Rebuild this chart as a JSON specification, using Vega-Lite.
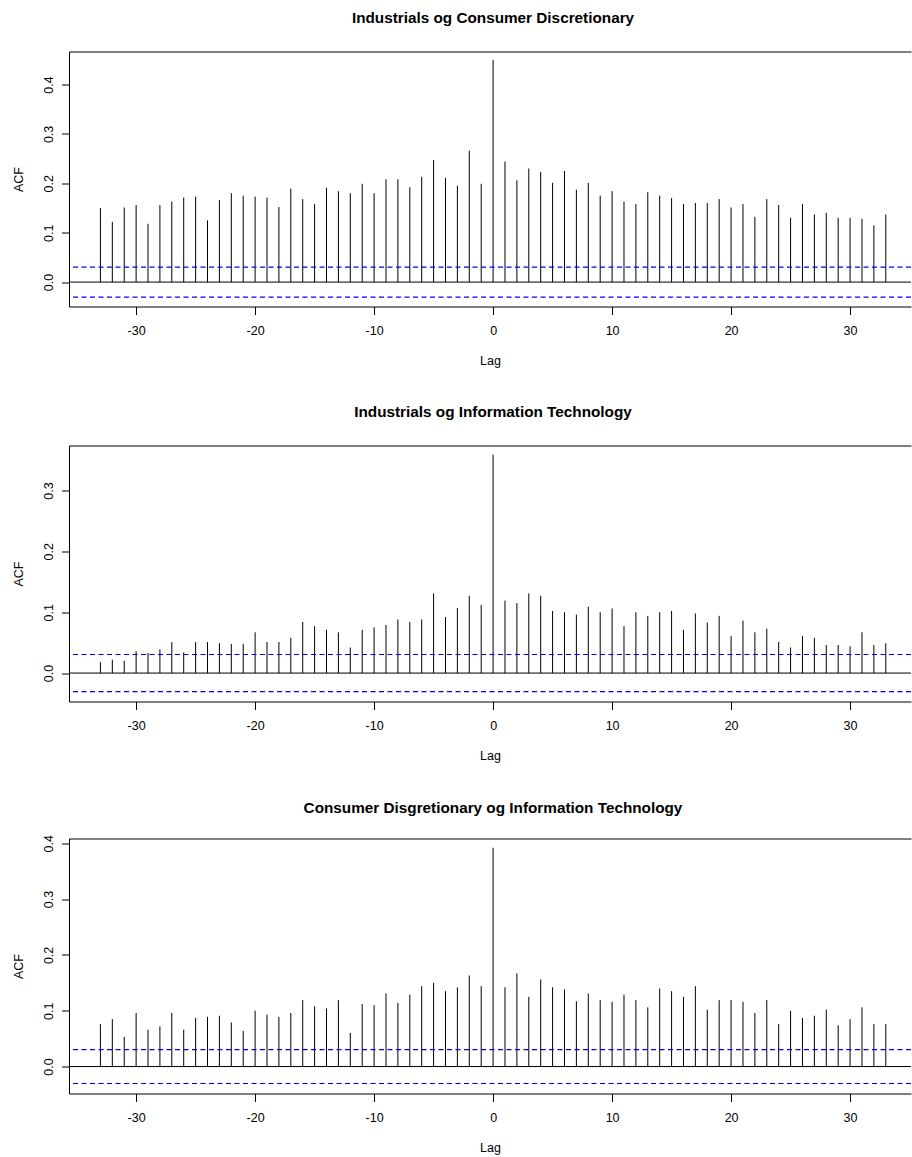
{
  "$schema": "https://vega.github.io/schema/vega-lite/v6.json",
  "padding": {"left": 11, "top": 10.5, "right": 0, "bottom": 2},
  "background": "white",
  "spacing": 37,
  "datasets": {
    "ind_cd": [
      {"lag": -33, "acf": 0.150}, {"lag": -32, "acf": 0.122}, {"lag": -31, "acf": 0.151}, {"lag": -30, "acf": 0.156},
      {"lag": -29, "acf": 0.118}, {"lag": -28, "acf": 0.156}, {"lag": -27, "acf": 0.163}, {"lag": -26, "acf": 0.171},
      {"lag": -25, "acf": 0.173}, {"lag": -24, "acf": 0.125}, {"lag": -23, "acf": 0.166}, {"lag": -22, "acf": 0.180},
      {"lag": -21, "acf": 0.175}, {"lag": -20, "acf": 0.173}, {"lag": -19, "acf": 0.171}, {"lag": -18, "acf": 0.152},
      {"lag": -17, "acf": 0.189}, {"lag": -16, "acf": 0.168}, {"lag": -15, "acf": 0.158}, {"lag": -14, "acf": 0.191},
      {"lag": -13, "acf": 0.184}, {"lag": -12, "acf": 0.180}, {"lag": -11, "acf": 0.199}, {"lag": -10, "acf": 0.180},
      {"lag": -9, "acf": 0.208}, {"lag": -8, "acf": 0.208}, {"lag": -7, "acf": 0.192}, {"lag": -6, "acf": 0.213},
      {"lag": -5, "acf": 0.247}, {"lag": -4, "acf": 0.211}, {"lag": -3, "acf": 0.195}, {"lag": -2, "acf": 0.266},
      {"lag": -1, "acf": 0.199}, {"lag": 0, "acf": 0.450}, {"lag": 1, "acf": 0.244}, {"lag": 2, "acf": 0.206},
      {"lag": 3, "acf": 0.230}, {"lag": 4, "acf": 0.223}, {"lag": 5, "acf": 0.201}, {"lag": 6, "acf": 0.225},
      {"lag": 7, "acf": 0.187}, {"lag": 8, "acf": 0.201}, {"lag": 9, "acf": 0.175}, {"lag": 10, "acf": 0.184},
      {"lag": 11, "acf": 0.163}, {"lag": 12, "acf": 0.158}, {"lag": 13, "acf": 0.182}, {"lag": 14, "acf": 0.175},
      {"lag": 15, "acf": 0.170}, {"lag": 16, "acf": 0.158}, {"lag": 17, "acf": 0.160}, {"lag": 18, "acf": 0.160},
      {"lag": 19, "acf": 0.168}, {"lag": 20, "acf": 0.151}, {"lag": 21, "acf": 0.158}, {"lag": 22, "acf": 0.132},
      {"lag": 23, "acf": 0.168}, {"lag": 24, "acf": 0.156}, {"lag": 25, "acf": 0.130}, {"lag": 26, "acf": 0.158},
      {"lag": 27, "acf": 0.137}, {"lag": 28, "acf": 0.140}, {"lag": 29, "acf": 0.130}, {"lag": 30, "acf": 0.130},
      {"lag": 31, "acf": 0.128}, {"lag": 32, "acf": 0.115}, {"lag": 33, "acf": 0.137}
    ],
    "ind_it": [
      {"lag": -33, "acf": 0.018}, {"lag": -32, "acf": 0.022}, {"lag": -31, "acf": 0.020}, {"lag": -30, "acf": 0.036},
      {"lag": -29, "acf": 0.033}, {"lag": -28, "acf": 0.039}, {"lag": -27, "acf": 0.051}, {"lag": -26, "acf": 0.034},
      {"lag": -25, "acf": 0.051}, {"lag": -24, "acf": 0.051}, {"lag": -23, "acf": 0.049}, {"lag": -22, "acf": 0.048},
      {"lag": -21, "acf": 0.048}, {"lag": -20, "acf": 0.067}, {"lag": -19, "acf": 0.051}, {"lag": -18, "acf": 0.051},
      {"lag": -17, "acf": 0.058}, {"lag": -16, "acf": 0.084}, {"lag": -15, "acf": 0.077}, {"lag": -14, "acf": 0.071},
      {"lag": -13, "acf": 0.067}, {"lag": -12, "acf": 0.042}, {"lag": -11, "acf": 0.071}, {"lag": -10, "acf": 0.075},
      {"lag": -9, "acf": 0.079}, {"lag": -8, "acf": 0.088}, {"lag": -7, "acf": 0.084}, {"lag": -6, "acf": 0.088},
      {"lag": -5, "acf": 0.131}, {"lag": -4, "acf": 0.092}, {"lag": -3, "acf": 0.107}, {"lag": -2, "acf": 0.127},
      {"lag": -1, "acf": 0.112}, {"lag": 0, "acf": 0.359}, {"lag": 1, "acf": 0.119}, {"lag": 2, "acf": 0.115},
      {"lag": 3, "acf": 0.131}, {"lag": 4, "acf": 0.127}, {"lag": 5, "acf": 0.102}, {"lag": 6, "acf": 0.100},
      {"lag": 7, "acf": 0.096}, {"lag": 8, "acf": 0.109}, {"lag": 9, "acf": 0.100}, {"lag": 10, "acf": 0.106},
      {"lag": 11, "acf": 0.077}, {"lag": 12, "acf": 0.100}, {"lag": 13, "acf": 0.094}, {"lag": 14, "acf": 0.100},
      {"lag": 15, "acf": 0.102}, {"lag": 16, "acf": 0.071}, {"lag": 17, "acf": 0.098}, {"lag": 18, "acf": 0.083},
      {"lag": 19, "acf": 0.094}, {"lag": 20, "acf": 0.061}, {"lag": 21, "acf": 0.086}, {"lag": 22, "acf": 0.067},
      {"lag": 23, "acf": 0.073}, {"lag": 24, "acf": 0.051}, {"lag": 25, "acf": 0.042}, {"lag": 26, "acf": 0.061},
      {"lag": 27, "acf": 0.058}, {"lag": 28, "acf": 0.046}, {"lag": 29, "acf": 0.046}, {"lag": 30, "acf": 0.044},
      {"lag": 31, "acf": 0.067}, {"lag": 32, "acf": 0.046}, {"lag": 33, "acf": 0.049}
    ],
    "cd_it": [
      {"lag": -33, "acf": 0.076}, {"lag": -32, "acf": 0.085}, {"lag": -31, "acf": 0.053}, {"lag": -30, "acf": 0.096},
      {"lag": -29, "acf": 0.066}, {"lag": -28, "acf": 0.072}, {"lag": -27, "acf": 0.096}, {"lag": -26, "acf": 0.066},
      {"lag": -25, "acf": 0.087}, {"lag": -24, "acf": 0.089}, {"lag": -23, "acf": 0.091}, {"lag": -22, "acf": 0.079},
      {"lag": -21, "acf": 0.064}, {"lag": -20, "acf": 0.100}, {"lag": -19, "acf": 0.093}, {"lag": -18, "acf": 0.089},
      {"lag": -17, "acf": 0.096}, {"lag": -16, "acf": 0.119}, {"lag": -15, "acf": 0.108}, {"lag": -14, "acf": 0.104},
      {"lag": -13, "acf": 0.119}, {"lag": -12, "acf": 0.060}, {"lag": -11, "acf": 0.112}, {"lag": -10, "acf": 0.110},
      {"lag": -9, "acf": 0.131}, {"lag": -8, "acf": 0.114}, {"lag": -7, "acf": 0.129}, {"lag": -6, "acf": 0.144},
      {"lag": -5, "acf": 0.150}, {"lag": -4, "acf": 0.135}, {"lag": -3, "acf": 0.142}, {"lag": -2, "acf": 0.163},
      {"lag": -1, "acf": 0.144}, {"lag": 0, "acf": 0.392}, {"lag": 1, "acf": 0.142}, {"lag": 2, "acf": 0.167},
      {"lag": 3, "acf": 0.125}, {"lag": 4, "acf": 0.156}, {"lag": 5, "acf": 0.142}, {"lag": 6, "acf": 0.138},
      {"lag": 7, "acf": 0.117}, {"lag": 8, "acf": 0.131}, {"lag": 9, "acf": 0.119}, {"lag": 10, "acf": 0.116},
      {"lag": 11, "acf": 0.129}, {"lag": 12, "acf": 0.119}, {"lag": 13, "acf": 0.106}, {"lag": 14, "acf": 0.140},
      {"lag": 15, "acf": 0.135}, {"lag": 16, "acf": 0.125}, {"lag": 17, "acf": 0.144}, {"lag": 18, "acf": 0.102},
      {"lag": 19, "acf": 0.119}, {"lag": 20, "acf": 0.119}, {"lag": 21, "acf": 0.116}, {"lag": 22, "acf": 0.096},
      {"lag": 23, "acf": 0.119}, {"lag": 24, "acf": 0.076}, {"lag": 25, "acf": 0.100}, {"lag": 26, "acf": 0.087},
      {"lag": 27, "acf": 0.091}, {"lag": 28, "acf": 0.102}, {"lag": 29, "acf": 0.074}, {"lag": 30, "acf": 0.085},
      {"lag": 31, "acf": 0.106}, {"lag": 32, "acf": 0.076}, {"lag": 33, "acf": 0.076}
    ],
    "reference": [
      {"kind": "zero", "level": 0},
      {"kind": "ci", "level": 0.0304},
      {"kind": "ci", "level": -0.0304}
    ]
  },
  "vconcat": [
    {
      "title": "Industrials og Consumer Discretionary",
      "width": 842,
      "height": 255,
      "view": {"stroke": "black", "strokeWidth": 1, "strokeDash": [842, 255, 1100]},
      "layer": [
        {
          "data": {"name": "ind_cd"},
          "mark": {"type": "rule", "color": "black", "strokeWidth": 1},
          "encoding": {
            "x": {"field": "lag", "type": "quantitative",
                  "scale": {"domain": [-35.64, 35.12], "nice": false, "zero": false},
                  "axis": {"values": [-30, -20, -10, 0, 10, 20, 30], "title": "Lag",
                           "labelExpr": "datum.value < 0 ? '-' + abs(datum.value) : '' + datum.value"}},
            "y": {"field": "acf", "type": "quantitative",
                  "scale": {"domain": [-0.0494, 0.4668], "nice": false, "zero": false},
                  "axis": {"values": [0, 0.1, 0.2, 0.3, 0.4], "format": ".1f", "title": "ACF"}},
            "y2": {"datum": 0}
          }
        },
        {
          "data": {"name": "reference"},
          "transform": [{"filter": "datum.kind === 'zero'"}],
          "mark": {"type": "rule", "color": "black", "strokeWidth": 1},
          "encoding": {"y": {"field": "level", "type": "quantitative"}}
        },
        {
          "data": {"name": "reference"},
          "transform": [{"filter": "datum.kind === 'ci'"}],
          "mark": {"type": "rule", "color": "#0000FF", "strokeWidth": 1.1, "strokeDash": [5, 3.5]},
          "encoding": {"y": {"field": "level", "type": "quantitative"}}
        }
      ]
    },
    {
      "title": "Industrials og Information Technology",
      "width": 842,
      "height": 256,
      "view": {"stroke": "black", "strokeWidth": 1, "strokeDash": [842, 256, 1100]},
      "layer": [
        {
          "data": {"name": "ind_it"},
          "mark": {"type": "rule", "color": "black", "strokeWidth": 1},
          "encoding": {
            "x": {"field": "lag", "type": "quantitative",
                  "scale": {"domain": [-35.64, 35.12], "nice": false, "zero": false},
                  "axis": {"values": [-30, -20, -10, 0, 10, 20, 30], "title": "Lag",
                           "labelExpr": "datum.value < 0 ? '-' + abs(datum.value) : '' + datum.value"}},
            "y": {"field": "acf", "type": "quantitative",
                  "scale": {"domain": [-0.0467, 0.3739], "nice": false, "zero": false},
                  "axis": {"values": [0, 0.1, 0.2, 0.3], "format": ".1f", "title": "ACF"}},
            "y2": {"datum": 0}
          }
        },
        {
          "data": {"name": "reference"},
          "transform": [{"filter": "datum.kind === 'zero'"}],
          "mark": {"type": "rule", "color": "black", "strokeWidth": 1},
          "encoding": {"y": {"field": "level", "type": "quantitative"}}
        },
        {
          "data": {"name": "reference"},
          "transform": [{"filter": "datum.kind === 'ci'"}],
          "mark": {"type": "rule", "color": "#0000FF", "strokeWidth": 1.1, "strokeDash": [5, 3.5]},
          "encoding": {"y": {"field": "level", "type": "quantitative"}}
        }
      ]
    },
    {
      "title": {"text": "Consumer Disgretionary og Information Technology", "offset": 18.5},
      "width": 842,
      "height": 255,
      "view": {"stroke": "black", "strokeWidth": 1, "strokeDash": [842, 255, 1100]},
      "layer": [
        {
          "data": {"name": "cd_it"},
          "mark": {"type": "rule", "color": "black", "strokeWidth": 1},
          "encoding": {
            "x": {"field": "lag", "type": "quantitative",
                  "scale": {"domain": [-35.64, 35.12], "nice": false, "zero": false},
                  "axis": {"values": [-30, -20, -10, 0, 10, 20, 30], "title": "Lag",
                           "labelExpr": "datum.value < 0 ? '-' + abs(datum.value) : '' + datum.value"}},
            "y": {"field": "acf", "type": "quantitative",
                  "scale": {"domain": [-0.0483, 0.4086], "nice": false, "zero": false},
                  "axis": {"values": [0, 0.1, 0.2, 0.3, 0.4], "format": ".1f", "title": "ACF"}},
            "y2": {"datum": 0}
          }
        },
        {
          "data": {"name": "reference"},
          "transform": [{"filter": "datum.kind === 'zero'"}],
          "mark": {"type": "rule", "color": "black", "strokeWidth": 1},
          "encoding": {"y": {"field": "level", "type": "quantitative"}}
        },
        {
          "data": {"name": "reference"},
          "transform": [{"filter": "datum.kind === 'ci'"}],
          "mark": {"type": "rule", "color": "#0000FF", "strokeWidth": 1.1, "strokeDash": [5, 3.5]},
          "encoding": {"y": {"field": "level", "type": "quantitative"}}
        }
      ]
    }
  ],
  "config": {
    "font": "Liberation Sans",
    "title": {"fontSize": 15.3, "fontWeight": "bold", "color": "black", "anchor": "middle", "frame": "group", "offset": 25, "baseline": "bottom", "dx": 3},
    "axis": {"grid": false, "domain": false, "tickColor": "black", "tickWidth": 1, "labelColor": "black", "labelFontSize": 12.5, "labelFlush": false, "labelOverlap": false, "titleColor": "black", "titleFontSize": 12.5, "titleFontWeight": "normal"},
    "axisX": {"tickSize": 8, "labelPadding": 10, "labelBaseline": "top", "titlePadding": 17, "titleBaseline": "top"},
    "axisY": {"tickSize": 7.5, "labelAngle": 270, "labelAlign": "center", "labelBaseline": "bottom", "labelPadding": 6, "titleAngle": 270, "titleBaseline": "bottom", "titlePadding": 17}
  }
}
